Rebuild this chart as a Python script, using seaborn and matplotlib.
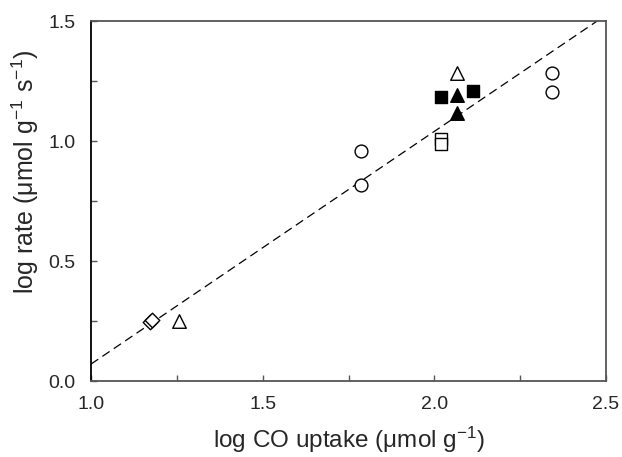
import matplotlib
matplotlib.use("Agg")
import matplotlib.pyplot as plt
import seaborn as sns
import pandas as pd
from matplotlib.ticker import MultipleLocator

sns.set_theme(style="white")
plt.rcParams['font.family'] = ['Liberation Sans', 'DejaVu Sans']
plt.rcParams['mathtext.fontset'] = 'custom'
plt.rcParams['mathtext.rm'] = 'Liberation Sans'
plt.rcParams['mathtext.it'] = 'Liberation Sans'

# data
circ_x = [1.786, 1.786, 2.342, 2.342]
circ_y = [0.958, 0.818, 1.285, 1.205]
otri_x = [1.257, 2.067]
otri_y = [0.250, 1.285]
diam_x = [1.172, 1.178]
diam_y = [0.245, 0.255]
osq_x = [2.019, 2.019]
osq_y = [1.010, 0.988]
fsq_x = [2.020, 2.113]
fsq_y = [1.183, 1.210]
ftri_x = [2.065, 2.065]
ftri_y = [1.190, 1.118]
fit_x = [1.0, 2.5]
fit_y = [0.071, 1.525]

fig, ax = plt.subplots(figsize=(6.22, 4.57), dpi=100)
fig.subplots_adjust(left=0.1463, right=0.9743, top=0.954, bottom=0.166)

sns.lineplot(x=fit_x, y=fit_y, ax=ax, color='black', linewidth=0.9,
             linestyle=(0, (7, 4)), zorder=1)

groups = [
    (circ_x, circ_y, 'o', 'white', 85),
    (otri_x, otri_y, '^', 'white', 95),
    (diam_x, diam_y, 'D', 'white', 55),
    (osq_x, osq_y, 's', 'white', 70),
    (fsq_x, fsq_y, 's', 'black', 70),
    (ftri_x, ftri_y, '^', 'black', 95),
]
for gx, gy, m, fc, s in groups:
    sns.scatterplot(x=gx, y=gy, ax=ax, marker=m, s=s, facecolor=fc,
                    edgecolor='black', linewidth=1.0, zorder=3)

ax.set_xlim(1.0, 2.5)
ax.set_ylim(0.0, 1.5)
ax.xaxis.set_minor_locator(MultipleLocator(0.25))
ax.yaxis.set_minor_locator(MultipleLocator(0.25))
ax.set_xticks([1.0, 1.5, 2.0, 2.5])
ax.set_xticklabels(['1.0', '1.5', '2.0', '2.5'])
ax.set_yticks([0.0, 0.5, 1.0, 1.5])
ax.set_yticklabels(['0.0', '0.5', '1.0', '1.5'])
ax.tick_params(which='both', direction='in', length=4, width=1, color='#555555',
               labelsize=14, pad=11, bottom=True, left=True)

for side, sp in ax.spines.items():
    sp.set_visible(True)
    sp.set_linewidth(1.3)
    sp.set_color('#555555')
ax.spines['left'].set_color('black')

ax.set_xlabel(r'log CO uptake ($\mu$mol g$^{-1}$)', fontsize=17.5)
ax.set_ylabel(r'log rate ($\mu$mol g$^{-1}$ s$^{-1}$)', fontsize=18)
ax.xaxis.set_label_coords(0.5, -0.122)
ax.yaxis.set_label_coords(-0.097, 0.58)

fig.savefig('out.png', dpi=100, facecolor='white')
